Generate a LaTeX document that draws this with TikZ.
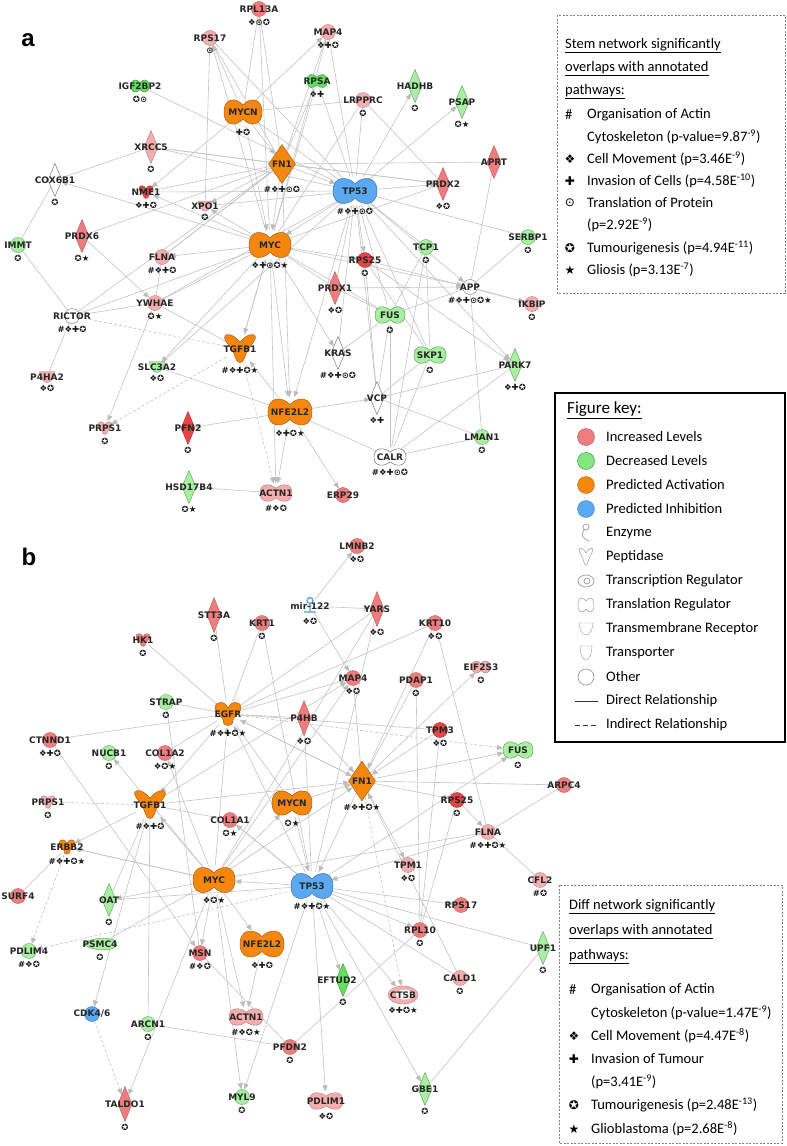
\documentclass[tikz,border=0pt]{standalone}
\usepackage{fontspec}
\setmainfont{DejaVu Sans}
\newfontfamily\lgd{Carlito}
\newfontfamily\dv{DejaVu Sans}
\newfontfamily\hdr{Liberation Sans}
\usetikzlibrary{shapes.geometric,arrows.meta}
\pgfdeclarelayer{bg}
\pgfdeclarelayer{edges}
\pgfsetlayers{bg,edges,main}
\definecolor{inc1}{HTML}{F5AEAE}
\definecolor{inc2}{HTML}{F07D7D}
\definecolor{inc3}{HTML}{E84444}
\definecolor{dec1}{HTML}{A6F0A0}
\definecolor{dec2}{HTML}{5FE35F}
\definecolor{act}{HTML}{F5870F}
\definecolor{actD}{HTML}{A85C12}
\definecolor{inh}{HTML}{5AA8F0}
\definecolor{inhD}{HTML}{3B73B0}
\definecolor{edgec}{HTML}{C4C4C4}
\definecolor{tipc}{HTML}{BBBBBB}
\definecolor{mirc}{HTML}{5B9BD8}
\definecolor{iconc}{HTML}{9A9A9A}
\tikzset{
 x=1pt,y=-1pt,
 cinc1/.style={fill=inc1,draw=inc1!75!black},
 cinc2/.style={fill=inc2,draw=inc2!75!black},
 cinc3/.style={fill=inc3,draw=inc3!75!black},
 cdec1/.style={fill=dec1,draw=dec1!65!black},
 cdec2/.style={fill=dec2,draw=dec2!65!black},
 cact/.style={fill=act,draw=actD},
 cinh/.style={fill=inh,draw=inhD},
 cwh/.style={fill=white,draw=black!55},
 cmir/.style={draw=mirc},
 anccirc/.style={circle,inner sep=0pt,line width=.4pt,#1},
 ancdiam/.style={diamond,inner sep=0pt,line width=.45pt,#1},
 ancother/.style={ellipse,inner sep=0pt},
 anchg/.style={ancother}, ancpep/.style={ancother}, ancenz/.style={ancother},
 anctpt/.style={ancother}, anctrr/.style={ancother}, ancring/.style={ancother},
 ancmir/.style={ancother},
 lbl/.style={font=\bfseries\fontsize{9}{10}\selectfont,inner sep=0pt,text=black!85},
 sym/.style={font=\bfseries\fontsize{8.5}{9}\selectfont,inner sep=0pt,anchor=north,text=black!90},
 e/.style={draw=edgec,line width=.6pt,-{Triangle[length=6pt,width=5pt,color=tipc]}},
 ed/.style={e,dash pattern=on 3pt off 2pt},
 l/.style={draw=edgec,line width=.6pt},
 ld/.style={l,dash pattern=on 3pt off 2pt},
 lt/.style={font=\lgd\fontsize{14.5}{17}\selectfont,inner sep=0pt,anchor=west},
 ls/.style={font=\dv\fontsize{12}{14}\selectfont,inner sep=0pt,anchor=center},
 pbox/.style={draw=black!50,line width=.6pt,dash pattern=on 2pt off 1.5pt},
 icon/.style={draw=iconc,line width=.7pt,fill=white},
}
\newcommand\shphg[5]{\path[#5,line width=.5pt,shift={(#1,#2)},xscale=#3/2,yscale=-#4/2]
 (0,0.5) .. controls (0.35,1.05) and (1,1.05) .. (1,0)
 .. controls (1,-1.05) and (0.35,-1.05) .. (0,-0.5)
 .. controls (-0.35,-1.05) and (-1,-1.05) .. (-1,0)
 .. controls (-1,1.05) and (-0.35,1.05) .. (0,0.5) -- cycle;}
\newcommand\shppep[5]{\path[#5,line width=.5pt,shift={(#1,#2)},xscale=#3/2,yscale=-#4/2]
 (0,0.45) .. controls (0.35,0.95) and (0.85,1.1) .. (0.95,0.85)
 .. controls (1.05,0.55) and (0.45,0.1) .. (0.28,-0.6)
 .. controls (0.2,-1) and (-0.2,-1) .. (-0.28,-0.6)
 .. controls (-0.45,0.1) and (-1.05,0.55) .. (-0.95,0.85)
 .. controls (-0.85,1.1) and (-0.35,0.95) .. (0,0.45) -- cycle;}
\newcommand\shpenz[5]{\path[#5,line width=.4pt,shift={(#1,#2)},xscale=#3/2,yscale=-#4/2]
 (0,0.45) .. controls (0.2,1.05) and (1,1.05) .. (1,0.45)
 .. controls (1,0.05) and (0.45,-0.15) .. (0.38,-0.45)
 .. controls (0.45,-1.05) and (-0.45,-1.05) .. (-0.38,-0.45)
 .. controls (-0.45,-0.15) and (-1,0.05) .. (-1,0.45)
 .. controls (-1,1.05) and (-0.2,1.05) .. (0,0.45) -- cycle;}
\newcommand\shptpt[5]{\path[#5,line width=.4pt,shift={(#1,#2)},xscale=#3/2,yscale=-#4/2]
 (-1,1) -- (1,1) .. controls (1,0.1) and (0.6,-1) .. (0,-1)
 .. controls (-0.6,-1) and (-1,0.1) .. (-1,1) -- cycle;}
\newcommand\shptrr[5]{\path[#5,line width=.4pt,shift={(#1,#2)},xscale=#3/2,yscale=-#4/2]
 (-1,0) .. controls (-0.4,1.15) and (1,1.1) .. (1,0)
 .. controls (1,-1.1) and (-0.4,-1.15) .. (-1,0) -- cycle;}
\newcommand\shpring[5]{\path[#5,line width=.4pt,shift={(#1,#2)},xscale=#3/2,yscale=-#4/2] (0,0) circle[radius=1];
 \path[fill=white,shift={(#1,#2)},xscale=#3/2,yscale=-#4/2] (0.1,0.05) circle[radius=0.55];}
\newcommand\shpmir[5]{\draw[mirc,line width=1.3pt,shift={(#1,#2)}] (0,-5.5) circle[radius=3] (0,-2.5) -- (0,6) (-6,6) -- (6,6);}
\newcommand\gene[9]{%
 \ifcsname shp#4\endcsname\csname shp#4\endcsname{#2}{#3}{#5}{#6}{#7}\fi
 \node[anc#4={#7},minimum width=#5pt,minimum height=#6pt] (#1) at (#2,#3) {};
 \node[lbl] (#1-l) at (#2,#3) {#8};
 \node[sym] (#1-s) at (#2,#3+#6/2+2.5) {#9};
}
\begin{document}
\begin{tikzpicture}
\useasboundingbox (0,0) rectangle (787,1146);
\begin{pgfonlayer}{bg}
\fill[white] (0,0) rectangle (787,1146);
\end{pgfonlayer}
\node[font=\hdr\bfseries\fontsize{24}{24}\selectfont,inner sep=0pt] (lblA) at (28,40) {a};
\node[font=\hdr\bfseries\fontsize{24}{24}\selectfont,inner sep=0pt] (lblB) at (29,557) {b};
% ---------------- network a
\gene{aRPL13A}{259}{9}{circ}{15}{15}{cinc2}{RPL13A}{❖⊙✪}
\gene{aRPS17}{210}{38}{circ}{15}{15}{cinc1}{RPS17}{⊙}
\gene{aMAP4}{328}{32}{circ}{15}{15}{cinc1}{MAP4}{❖✚✪}
\gene{aIGF2BP2}{140}{86}{hg}{18}{14}{cdec2}{IGF2BP2}{✪⊙}
\gene{aMYCN}{243}{112}{hg}{38}{28}{cact}{MYCN}{✚✪}
\gene{aRPSA}{317}{81}{hg}{20}{15}{cdec2}{RPSA}{❖✚}
\gene{aLRPPRC}{363}{100}{circ}{15}{15}{cinc1}{LRPPRC}{✪}
\gene{aHADHB}{415}{86}{diam}{14}{33}{cdec1}{HADHB}{✪}
\gene{aPSAP}{462}{102}{diam}{14}{33}{cdec1}{PSAP}{✪★}
\gene{aXRCC5}{151}{147}{diam}{14}{33}{cinc1}{XRCC5}{✪}
\gene{aFN1}{282}{164}{diam}{27}{39}{cact}{FN1}{\#❖✚⊙✪}
\gene{aAPRT}{494}{162}{diam}{14}{33}{cinc2}{APRT}{}
\gene{aTP53}{355}{191}{hg}{44}{29}{cinh}{TP53}{\#❖✚⊙✪}
\gene{aPRDX2}{443}{184}{diam}{14}{33}{cinc2}{PRDX2}{❖✪}
\gene{aCOX6B1}{55}{180}{diam}{14}{33}{cwh}{COX6B1}{✪}
\gene{aNME1}{146}{192}{enz}{14}{14}{cinc3}{NME1}{❖✚✪}
\gene{aXPO1}{205}{206}{tpt}{14}{10}{cinc1}{XPO1}{✪}
\gene{aPRDX6}{82}{236}{diam}{14}{33}{cinc2}{PRDX6}{✪★}
\gene{aIMMT}{18}{245}{circ}{15}{15}{cdec1}{IMMT}{✪}
\gene{aMYC}{270}{245}{hg}{42}{29}{cact}{MYC}{❖✚⊙✪★}
\gene{aSERBP1}{528}{237}{circ}{15}{15}{cdec1}{SERBP1}{✪}
\gene{aTCP1}{426}{247}{circ}{15}{15}{cdec1}{TCP1}{✪}
\gene{aFLNA}{162}{257}{circ}{15}{15}{cinc1}{FLNA}{\#❖✚✪}
\gene{aRPS25}{365}{260}{circ}{15}{15}{cinc3}{RPS25}{✪}
\gene{aPRDX1}{335}{288}{diam}{14}{33}{cinc2}{PRDX1}{❖✪}
\gene{aAPP}{470}{287}{circ}{15}{15}{cwh}{APP}{\#❖✚⊙✪★}
\gene{aYWHAE}{155}{303}{circ}{15}{15}{cinc1}{YWHAE}{✪★}
\gene{aIKBIP}{532}{304}{circ}{15}{15}{cinc1}{IKBIP}{✪}
\gene{aFUS}{390}{315}{hg}{30}{19}{cdec1}{FUS}{✪}
\gene{aRICTOR}{72}{316}{circ}{15}{15}{cwh}{RICTOR}{\#❖✚✪}
\gene{aTGFB1}{240}{349}{pep}{32}{30}{cact}{TGFB1}{\#❖✚✪★}
\gene{aKRAS}{338}{353}{diam}{14}{33}{cwh}{KRAS}{\#❖✚⊙✪}
\gene{aSKP1}{430}{355}{hg}{32}{19}{cdec1}{SKP1}{✪}
\gene{aPARK7}{515}{365}{diam}{14}{33}{cdec1}{PARK7}{❖✚✪}
\gene{aSLC3A2}{157}{367}{tpt}{15}{11}{cdec1}{SLC3A2}{❖✪}
\gene{aP4HA2}{47}{377}{tpt}{15}{11}{cinc1}{P4HA2}{❖✪}
\gene{aVCP}{377}{398}{diam}{14}{33}{cwh}{VCP}{❖✚}
\gene{aNFE2L2}{290}{412}{hg}{44}{30}{cact}{NFE2L2}{❖✚✪★}
\gene{aPRPS1}{105}{428}{enz}{14}{14}{cinc1}{PRPS1}{✪}
\gene{aPFN2}{188}{428}{diam}{14}{33}{cinc3}{PFN2}{✪}
\gene{aLMAN1}{482}{437}{circ}{15}{15}{cdec1}{LMAN1}{✪}
\gene{aCALR}{390}{457}{hg}{32}{19}{cwh}{CALR}{\#❖✚⊙✪}
\gene{aHSD17B4}{189}{487}{diam}{14}{33}{cdec1}{HSD17B4}{✪★}
\gene{aACTN1}{276}{493}{hg}{32}{19}{cinc1}{ACTN1}{\#❖✪}
\gene{aERP29}{343}{495}{circ}{15}{15}{cinc2}{ERP29}{}
% ---------------- network b
\gene{bSTT3A}{214}{615}{diam}{14}{35}{cinc2}{STT3A}{✪}
\gene{bHK1}{143}{640}{enz}{14}{14}{cinc2}{HK1}{✪}
\gene{bKRT1}{262}{623}{circ}{15}{15}{cinc2}{KRT1}{✪}
\gene{bLMNB2}{357}{546}{circ}{15}{15}{cinc2}{LMNB2}{❖✪}
\gene{bmir}{310}{606}{mir}{14}{18}{cmir}{mir-122}{❖✪}
\gene{bYARS}{377}{609}{diam}{14}{35}{cinc2}{YARS}{❖✪}
\gene{bKRT10}{435}{623}{circ}{15}{15}{cinc2}{KRT10}{❖✪}
\gene{bMAP4}{353}{678}{circ}{15}{15}{cinc2}{MAP4}{❖✪}
\gene{bPDAP1}{416}{680}{circ}{15}{15}{cinc2}{PDAP1}{✪}
\gene{bEIF2S3}{481}{667}{hg}{18}{14}{cinc1}{EIF2S3}{✪}
\gene{bSTRAP}{166}{702}{circ}{15}{15}{cdec1}{STRAP}{✪}
\gene{bEGFR}{228}{714}{enz}{26}{26}{cact}{EGFR}{\#❖✚✪★}
\gene{bP4HB}{304}{718}{diam}{14}{35}{cinc2}{P4HB}{❖✪}
\gene{bTPM3}{440}{730}{circ}{15}{15}{cinc3}{TPM3}{❖✪}
\gene{bCTNND1}{50}{740}{circ}{15}{15}{cinc2}{CTNND1}{❖✚✪}
\gene{bFUS}{518}{750}{hg}{30}{19}{cdec1}{FUS}{✪}
\gene{bNUCB1}{109}{753}{circ}{15}{15}{cdec1}{NUCB1}{✪}
\gene{bCOL1A2}{165}{753}{circ}{15}{15}{cinc2}{COL1A2}{❖✪★}
\gene{bFN1}{362}{781}{diam}{27}{40}{cact}{FN1}{\#❖✚✪★}
\gene{bARPC4}{564}{785}{circ}{15}{15}{cinc2}{ARPC4}{}
\gene{bRPS25}{457}{800}{circ}{15}{15}{cinc3}{RPS25}{✪}
\gene{bMYCN}{292}{803}{hg}{40}{28}{cact}{MYCN}{✪★}
\gene{bPRPS1}{48}{802}{enz}{14}{14}{cinc1}{PRPS1}{✪}
\gene{bTGFB1}{150}{805}{pep}{32}{30}{cact}{TGFB1}{\#❖✚✪}
\gene{bCOL1A1}{230}{820}{circ}{15}{15}{cinc2}{COL1A1}{✪★}
\gene{bFLNA}{488}{832}{circ}{15}{15}{cinc1}{FLNA}{\#❖✚✪★}
\gene{bERBB2}{67}{847}{enz}{16}{16}{cact}{ERBB2}{\#❖✚✪★}
\gene{bTPM1}{408}{865}{circ}{15}{15}{cinc1}{TPM1}{❖✪}
\gene{bMYC}{214}{880}{hg}{42}{29}{cact}{MYC}{❖✪★}
\gene{bCFL2}{540}{880}{circ}{15}{15}{cinc1}{CFL2}{\#✪}
\gene{bTP53}{312}{886}{hg}{42}{29}{cinh}{TP53}{\#❖✚✪★}
\gene{bSURF4}{18}{896}{circ}{15}{15}{cinc2}{SURF4}{}
\gene{bOAT}{109}{900}{diam}{14}{33}{cdec1}{OAT}{✪}
\gene{bRPS17}{461}{905}{circ}{15}{15}{cinc2}{RPS17}{}
\gene{bRPL10}{420}{930}{circ}{15}{15}{cinc2}{RPL10}{✪}
\gene{bNFE2L2}{262}{944}{hg}{44}{30}{cact}{NFE2L2}{❖✚✪}
\gene{bPSMC4}{100}{944}{trr}{34}{14}{cdec1}{PSMC4}{✪}
\gene{bUPF1}{543}{948}{diam}{14}{33}{cdec1}{UPF1}{✪}
\gene{bPDLIM4}{29}{951}{circ}{15}{15}{cdec1}{PDLIM4}{\#❖✪}
\gene{bMSN}{200}{953}{circ}{15}{15}{cinc2}{MSN}{\#❖✪}
\gene{bCALD1}{460}{978}{circ}{15}{15}{cinc1}{CALD1}{✪}
\gene{bEFTUD2}{343}{980}{diam}{14}{33}{cdec2}{}{✪}
\node[lbl] (bEFTUD2-t) at (337,980) {EFTUD2};
\gene{bCTSB}{403}{995}{ring}{30}{18}{cinc1}{CTSB}{❖✚✪★}
\gene{bCDK4}{92}{1014}{circ}{15}{15}{cinh}{CDK4/6}{}
\gene{bACTN1}{246}{1017}{hg}{34}{19}{cinc1}{ACTN1}{\#❖✪★}
\gene{bARCN1}{148}{1024}{circ}{15}{15}{cdec1}{ARCN1}{✪}
\gene{bPFDN2}{290}{1047}{circ}{15}{15}{cinc2}{PFDN2}{✪}
\gene{bGBE1}{425}{1089}{diam}{14}{33}{cdec1}{GBE1}{✪}
\gene{bMYL9}{242}{1097}{circ}{15}{15}{cdec1}{MYL9}{✪}
\gene{bPDLIM1}{326}{1101}{hg}{34}{19}{cinc1}{PDLIM1}{❖✪}
\gene{bTALDO1}{125}{1104}{diam}{14}{35}{cinc2}{TALDO1}{✪}
% ---------------- edges
\begin{pgfonlayer}{edges}
\foreach \s/\t in {aMYCN/aRPS17,aMYC/aRPS17,aMYCN/aMAP4,aMYC/aMAP4,aMYCN/aNME1,aMYC/aCOX6B1,aMYC/aNME1,aMYC/aXPO1,aFN1/aXPO1,aMYC/aFLNA,aPRDX6/aYWHAE,aMYC/aSLC3A2,aMYC/aTGFB1,aYWHAE/aPRPS1,aNFE2L2/aPFN2,aNFE2L2/aACTN1,aMYC/aACTN1,aNFE2L2/aERP29,aMYC/aNFE2L2,aFN1/aNFE2L2,aTP53/aNFE2L2,aNFE2L2/aVCP,aMYC/aKRAS,aTP53/aRPS25,aMYC/aRPS25,aTP53/aHADHB,aTP53/aPSAP,aTP53/aPRDX2,aFN1/aPRDX2,aFN1/aTP53,aMYCN/aFN1,aTP53/aMYC,aMYCN/aMYC,aPRDX1/aAPP,aMYC/aAPP,aTP53/aAPP,aAPP/aIKBIP,aRPS25/aIKBIP,aTP53/aPARK7,aRPS25/aPARK7,aNFE2L2/aTGFB1,aTGFB1/aMYC,aFN1/aMYC}
  \draw[e] (\s) -- (\t);
\foreach \s/\t in {aTGFB1/aPRPS1,aTGFB1/aACTN1}
  \draw[ed] (\s) -- (\t);
\draw[ld] (aRICTOR) -- (aTGFB1);
\foreach \s/\t in {aRPL13A/aMYCN,aRPL13A/aFN1,aRPL13A/aMYC,aRPS17/aXPO1,aRPS17/aTP53,aIGF2BP2/aTP53,aXRCC5/aCOX6B1,aXRCC5/aFN1,aXRCC5/aTP53,aXRCC5/aPRDX2,aPRDX6/aFN1,aCOX6B1/aIMMT,aIMMT/aRICTOR,aFLNA/aYWHAE,aFLNA/aFN1,aYWHAE/aRICTOR,aYWHAE/aMYC,aYWHAE/aTGFB1,aYWHAE/aTP53,aRICTOR/aP4HA2,aRICTOR/aMYC,aRICTOR/aFN1,aSLC3A2/aNFE2L2,aSLC3A2/aTP53,aHSD17B4/aACTN1,aVCP/aFUS,aVCP/aSKP1,aVCP/aPARK7,aVCP/aLMAN1,aVCP/aRPS25,aVCP/aTP53,aCALR/aSKP1,aCALR/aPARK7,aCALR/aLMAN1,aCALR/aFUS,aCALR/aNFE2L2,aAPP/aLMAN1,aAPP/aSERBP1,aAPP/aFUS,aAPRT/aAPP,aTCP1/aFUS,aTCP1/aSKP1,aTCP1/aTP53,aTCP1/aCALR,aTP53/aSERBP1,aTP53/aLRPPRC,aTP53/aRPSA,aTP53/aKRAS,aTP53/aFUS,aTP53/aSKP1,aFN1/aAPRT,aFN1/aMAP4,aFN1/aRPSA,aFN1/aNME1,aFN1/aFLNA,aMYCN/aLRPPRC,aMYCN/aTP53,aLRPPRC/aPRDX2,aLRPPRC/aMYC,aPRDX1/aMYC,aPRDX1/aFUS,aPRDX1/aTP53,aRPSA/aMYC,aMAP4/aTP53,aKRAS/aFUS,aMYC/aFUS,aSKP1/aRPS25,aRPS17/aFN1,aMYC/aPRDX2,aXPO1/aTP53,aNME1/aTP53}
  \draw[l] (\s) -- (\t);
\foreach \s/\t in {bmir/bLMNB2,bmir/bYARS,bmir/bMAP4,bEGFR/bMAP4,bMYC/bMAP4,bTGFB1/bMAP4,bFN1/bEIF2S3,bFN1/bFUS,bTP53/bFUS,bFN1/bRPS25,bFN1/bTPM1,bRPS25/bFLNA,bTP53/bRPS17,bTP53/bRPL10,bTP53/bEFTUD2,bTP53/bCTSB,bTP53/bMYC,bMYC/bOAT,bMYC/bERBB2,bTGFB1/bERBB2,bMYC/bTGFB1,bMYC/bMSN,bMYC/bNFE2L2,bMYC/bACTN1,bNFE2L2/bACTN1,bMYC/bMYL9,bTP53/bMYL9,bTP53/bPDLIM1,bTP53/bGBE1,bMYC/bTALDO1,bCTNND1/bMSN,bMYC/bNUCB1,bMYC/bCOL1A2,bMYC/bEGFR,bTP53/bEGFR,bFN1/bEGFR,bTP53/bCOL1A1,bMYC/bMYCN,bFN1/bTP53,bMYCN/bTP53,bEGFR/bFN1,bMYCN/bFN1,bMYC/bFN1,bTGFB1/bFN1,bP4HB/bFN1,bTPM3/bFN1,bCALD1/bFN1,bKRT10/bFN1,bTGFB1/bCDK4,bFLNA/bTP53,bEGFR/bTGFB1}
  \draw[e] (\s) -- (\t);
\foreach \s/\t in {bEGFR/bFUS,bFN1/bCTSB,bCDK4/bTALDO1,bERBB2/bPDLIM4,bTP53/bPDLIM4}
  \draw[ed] (\s) -- (\t);
\draw[ld] (bTGFB1) -- (bPRPS1);
\foreach \s/\t in {bHK1/bEGFR,bSTT3A/bEGFR,bKRT1/bEGFR,bSTRAP/bEGFR,bCTNND1/bEGFR,bYARS/bEGFR,bYARS/bMYC,bKRT10/bEGFR,bKRT10/bFLNA,bKRT1/bTP53,bMAP4/bFN1,bPDAP1/bRPL10,bPDAP1/bFN1,bP4HB/bEGFR,bP4HB/bTP53,bTPM3/bEGFR,bTPM3/bRPL10,bARPC4/bFLNA,bARPC4/bFN1,bFLNA/bCFL2,bFLNA/bMYC,bUPF1/bGBE1,bUPF1/bTP53,bRPL10/bRPS25,bRPL10/bPFDN2,bCALD1/bTP53,bTGFB1/bOAT,bTGFB1/bCOL1A1,bERBB2/bSURF4,bARCN1/bPFDN2,bARCN1/bTGFB1,bPFDN2/bMSN,bPSMC4/bMYC,bCOL1A2/bEGFR,bSTRAP/bMSN,bMYCN/bEGFR,bCOL1A1/bTP53,bOAT/bTP53,bERBB2/bMYC,bYARS/bTP53}
  \draw[l] (\s) -- (\t);
\end{pgfonlayer}
% ---------------- stem legend
\draw[pbox] (557,15) rectangle (785,293);
\node[lt] (st1) at (565,46) {\underline{Stem network significantly}};
\node[lt] (st2) at (565,69) {\underline{overlaps with annotated}};
\node[lt] (st3) at (565,92) {\underline{pathways:}};
\node[lt] (sh) at (565,115) {\#};
\node[lt] (si1) at (587,115) {Organisation of Actin};
\node[lt] (si2) at (587,137) {Cytoskeleton (p-value=9.87\textsuperscript{-9})};
\node[ls] (sd) at (570,159) {❖};
\node[lt] (si3) at (587,159) {Cell Movement (p=3.46E\textsuperscript{-9})};
\node[ls] (sp) at (570,181) {✚};
\node[lt] (si4) at (587,181) {Invasion of Cells (p=4.58E\textsuperscript{-10})};
\node[ls] (so) at (570,203) {⊙};
\node[lt] (si5) at (587,203) {Translation of Protein};
\node[lt] (si6) at (587,225) {(p=2.92E\textsuperscript{-9})};
\node[ls] (stt) at (570,248) {✪};
\node[lt] (si7) at (587,248) {Tumourigenesis (p=4.94E\textsuperscript{-11})};
\node[ls] (ss) at (570,270) {★};
\node[lt] (si8) at (587,270) {Gliosis (p=3.13E\textsuperscript{-7})};
% ---------------- figure key
\draw[black,line width=1.6pt] (555,393) rectangle (785,742);
\node[lt,font=\lgd\fontsize{17}{20}\selectfont] (fkt) at (567,410) {\underline{Figure key:}};
\node[circle,minimum size=17pt,inner sep=0pt,fill=inc2,draw=inc2!70!black] (fk0) at (586,437) {};
\node[circle,minimum size=17pt,inner sep=0pt,fill=dec2!80!white,draw=dec2!60!black] (fk1) at (586,461) {};
\node[circle,minimum size=17pt,inner sep=0pt,fill=act,draw=act!80!black] (fk2) at (586,485) {};
\node[circle,minimum size=17pt,inner sep=0pt,fill=inh,draw=inh!80!black] (fk3) at (586,509) {};
\draw[icon,fill=none] (586,527) circle[radius=3] (584,530) .. controls (580,535) and (583,539) .. (589,541);
\shppep{586}{557}{14}{18}{icon}
\draw[icon] (586,581) ellipse[x radius=8,y radius=6];
\draw[icon] (587,581) circle[radius=3];
\shphg{586}{605}{16}{16}{icon}
\shptpt{586}{629}{14}{12}{icon}
\shptpt{586}{653}{12}{14}{icon}
\node[circle,minimum size=16pt,inner sep=0pt,draw=iconc,line width=.7pt] (fk10) at (586,677) {};
\coordinate (d1) at (575,701); \coordinate (d2) at (598,701);
\draw[black!80,line width=1pt] (d1) -- (d2);
\coordinate (i1) at (575,725); \coordinate (i2) at (598,725);
\draw[black!80,line width=1pt,dash pattern=on 5pt off 3pt] (i1) -- (i2);
\foreach \i/\t in {0/Increased Levels,1/Decreased Levels,2/Predicted Activation,3/Predicted Inhibition,4/Enzyme,5/Peptidase,6/Transcription Regulator,7/Translation Regulator,8/Transmembrane Receptor,9/Transporter,10/Other,11/Direct Relationship,12/Indirect Relationship}
  \node[lt] (fkl\i) at (606,437+24*\i) {\t};
% ---------------- diff legend
\draw[pbox] (559,885) rectangle (782,1143);
\node[lt] (dt1) at (569,907) {\underline{Diff network significantly}};
\node[lt] (dt2) at (569,932) {\underline{overlaps with annotated}};
\node[lt] (dt3) at (569,957) {\underline{pathways:}};
\node[lt] (dh) at (569,990) {\#};
\node[lt] (di1) at (591,990) {Organisation of Actin};
\node[lt] (di2) at (591,1013) {Cytoskeleton (p-value=1.47E\textsuperscript{-9})};
\node[ls] (dd) at (574,1036) {❖};
\node[lt] (di3) at (591,1036) {Cell Movement (p=4.47E\textsuperscript{-8})};
\node[ls] (dp) at (574,1059) {✚};
\node[lt] (di4) at (591,1059) {Invasion of Tumour};
\node[lt] (di5) at (591,1082) {(p=3.41E\textsuperscript{-9})};
\node[ls] (dtt) at (574,1105) {✪};
\node[lt] (di6) at (591,1105) {Tumourigenesis (p=2.48E\textsuperscript{-13})};
\node[ls] (dss) at (574,1129) {★};
\node[lt] (di7) at (591,1129) {Glioblastoma (p=2.68E\textsuperscript{-8})};
\end{tikzpicture}
\end{document}
